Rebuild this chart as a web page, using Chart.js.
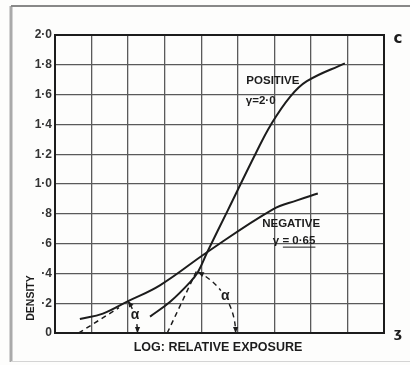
<!DOCTYPE html>
<html>
<head>
<meta charset="utf-8">
<script src="https://cdn.jsdelivr.net/npm/chart.js@4"></script>
<style>
    html, body { margin: 0; padding: 0; background: #fff; }
    #wrap { width: 410px; height: 365px; }
</style>
</head>
<body>
<div id="wrap"><canvas id="densityChart" width="410" height="365"></canvas></div>
<script>
// log relative exposure (grid units) and density
const posLogE = [2.60, 3.15, 3.69, 3.91, 4.16, 4.73, 5.50, 5.91, 6.43, 6.89, 7.93];
const posDensity = [0.11, 0.21, 0.34, 0.41, 0.54, 0.825, 1.21, 1.40, 1.585, 1.69, 1.81];
const negLogE = [0.68, 1.31, 2.00, 2.87, 4.16, 5.96, 6.62, 7.19];
const negDensity = [0.094, 0.13, 0.214, 0.32, 0.542, 0.83, 0.89, 0.936];

// dashed extensions of the straight parts down to the axis
const posTangentLogE = [3.07, 3.88];
const posTangentDensity = [0, 0.42];
const negTangentLogE = [0.65, 1.75];
const negTangentDensity = [0, 0.17];

const densityTicks = [0, 0.2, 0.4, 0.6, 0.8, 1.0, 1.2, 1.4, 1.6, 1.8, 2.0];
const tickText = ['0', '·2', '·4', '·6', '·8', '1·0', '1·2', '1·4', '1·6', '1·8', '2·0'];

const INK = '#1c1c1c';
const FONT = '"Liberation Sans", Arial, sans-serif';

function pts(xs, ys) {
    return xs.map((v, i) => ({ x: v, y: ys[i] }));
}

function arrowHead(ctx, px, py, dx, dy) {
    const len = 6, half = 2.6;
    const bx = px - dx * len, by = py - dy * len;
    ctx.beginPath();
    ctx.moveTo(px, py);
    ctx.lineTo(bx - dy * half, by + dx * half);
    ctx.lineTo(bx + dy * half, by - dx * half);
    ctx.closePath();
    ctx.fill();
}

// angle mark: arc from the curve down to the axis, centred where the tangent meets the axis
function drawAngle(ctx, x, y, c, tip, dashed) {
    const cx = x.getPixelForValue(c.x), cy = y.getPixelForValue(c.y);
    const tx = x.getPixelForValue(tip.x), ty = y.getPixelForValue(tip.y);
    const r = Math.hypot(tx - cx, ty - cy);
    const a1 = Math.atan2(ty - cy, tx - cx);
    const mid = a1 / 2;
    const gap = 8 / r;
    ctx.save();
    ctx.strokeStyle = INK;
    ctx.fillStyle = INK;
    ctx.lineWidth = 1.4;
    ctx.setLineDash(dashed ? [5, 4] : []);
    ctx.beginPath();
    ctx.arc(cx, cy, r, a1, mid - gap);
    ctx.stroke();
    ctx.beginPath();
    ctx.arc(cx, cy, r, mid + gap, 0);
    ctx.stroke();
    ctx.setLineDash([]);
    arrowHead(ctx, tx, ty, Math.sin(a1), -Math.cos(a1));
    arrowHead(ctx, cx + r, cy, 0, 1);
    ctx.font = 'bold 14px ' + FONT;
    ctx.textAlign = 'center';
    ctx.textBaseline = 'middle';
    ctx.fillText('α', cx + r * Math.cos(mid), cy + r * Math.sin(mid) - 1);
    ctx.restore();
}

const decor = {
    id: 'decor',
    beforeDraw(chart) {
        const { ctx } = chart;
        ctx.save();
        ctx.fillStyle = '#fdfdfc';
        ctx.fillRect(0, 0, chart.width, chart.height);
        ctx.strokeStyle = '#aaa';
        ctx.lineWidth = 3;
        ctx.beginPath();
        ctx.moveTo(11, 6); ctx.lineTo(11, 362);
        ctx.stroke();
        ctx.strokeStyle = '#888';
        ctx.lineWidth = 2;
        ctx.beginPath();
        ctx.moveTo(11, 6); ctx.lineTo(410, 6);
        ctx.stroke();
        ctx.strokeStyle = '#d4d4d4';
        ctx.lineWidth = 1;
        ctx.beginPath();
        ctx.moveTo(11, 361.5); ctx.lineTo(410, 361.5);
        ctx.stroke();
        ctx.restore();
    },
    afterDatasetsDraw(chart) {
        const { ctx, chartArea: a, scales: { x, y } } = chart;
        ctx.save();
        ctx.strokeStyle = INK;
        ctx.lineWidth = 2;
        ctx.strokeRect(a.left, a.top, a.right - a.left, a.bottom - a.top);
        ctx.restore();

        drawAngle(ctx, x, y, { x: negTangentLogE[0], y: negTangentDensity[0] }, { x: negLogE[2], y: negDensity[2] }, false);
        drawAngle(ctx, x, y, { x: posTangentLogE[0], y: posTangentDensity[0] }, { x: posLogE[3], y: posDensity[3] }, true);

        ctx.save();
        ctx.fillStyle = INK;
        ctx.textBaseline = 'middle';
        ctx.font = 'bold 11.5px ' + FONT;
        ctx.textAlign = 'center';
        ctx.fillText('POSITIVE', x.getPixelForValue(5.96), y.getPixelForValue(1.69));
        ctx.fillText('NEGATIVE', x.getPixelForValue(6.46), y.getPixelForValue(0.73));
        ctx.textAlign = 'left';
        ctx.fillText('γ=2·0', x.getPixelForValue(5.22), y.getPixelForValue(1.56));
        const gx = x.getPixelForValue(5.96), gy = y.getPixelForValue(0.62);
        ctx.fillText('γ = 0·65', gx, gy);
        const w = ctx.measureText('γ = 0·65').width;
        ctx.fillRect(gx + 10, gy + 6, w - 10, 1);

        ctx.font = 'bold 12.5px ' + FONT;
        ctx.textAlign = 'center';
        ctx.fillText('LOG: RELATIVE EXPOSURE', 218, a.bottom + 15);

        ctx.save();
        ctx.translate(31, 298);
        ctx.rotate(-Math.PI / 2);
        ctx.font = 'bold 10.5px ' + FONT;
        ctx.fillText('DENSITY', 0, 0);
        ctx.restore();

        ctx.font = 'bold 15px "DejaVu Sans", sans-serif';
        ctx.fillText('c', 398, a.top + 4);
        ctx.font = 'bold 13px "DejaVu Sans", sans-serif';
        ctx.fillText('ʒ', 398, a.bottom + 1);
        ctx.restore();
    }
};

const lineStyle = {
    borderColor: INK,
    borderWidth: 2,
    pointRadius: 0,
    fill: false,
    tension: 0.4
};

new Chart(document.getElementById('densityChart'), {
    type: 'line',
    data: {
        datasets: [
            { ...lineStyle, label: 'Positive', data: pts(posLogE, posDensity) },
            { ...lineStyle, label: 'Negative', data: pts(negLogE, negDensity) },
            { ...lineStyle, label: 'Positive tangent', data: pts(posTangentLogE, posTangentDensity), borderWidth: 1.5, borderDash: [5, 4], tension: 0 },
            { ...lineStyle, label: 'Negative tangent', data: pts(negTangentLogE, negTangentDensity), borderWidth: 1.5, borderDash: [5, 4], tension: 0 }
        ]
    },
    options: {
        responsive: false,
        animation: false,
        layout: { padding: { top: 35, right: 26, left: 0, bottom: 0 } },
        plugins: {
            legend: { display: false },
            tooltip: { enabled: false }
        },
        scales: {
            x: {
                type: 'linear',
                min: 0,
                max: 9,
                ticks: { stepSize: 1, display: false },
                grid: { color: '#5a5a5a', lineWidth: 1.3, drawTicks: false },
                border: { display: false },
                afterFit: s => { s.height = 32; }
            },
            y: {
                type: 'linear',
                min: 0,
                max: 2,
                afterBuildTicks: s => { s.ticks = densityTicks.map(v => ({ value: v })); },
                ticks: {
                    padding: 3,
                    color: '#333',
                    font: { family: FONT, size: 12, weight: 'bold' },
                    callback: v => tickText[densityTicks.findIndex(t => Math.abs(t - v) < 1e-6)]
                },
                grid: { color: '#5a5a5a', lineWidth: 1.3, drawTicks: false },
                border: { display: false },
                afterFit: s => { s.width = 55; }
            }
        }
    },
    plugins: [decor]
});
</script>
</body>
</html>
